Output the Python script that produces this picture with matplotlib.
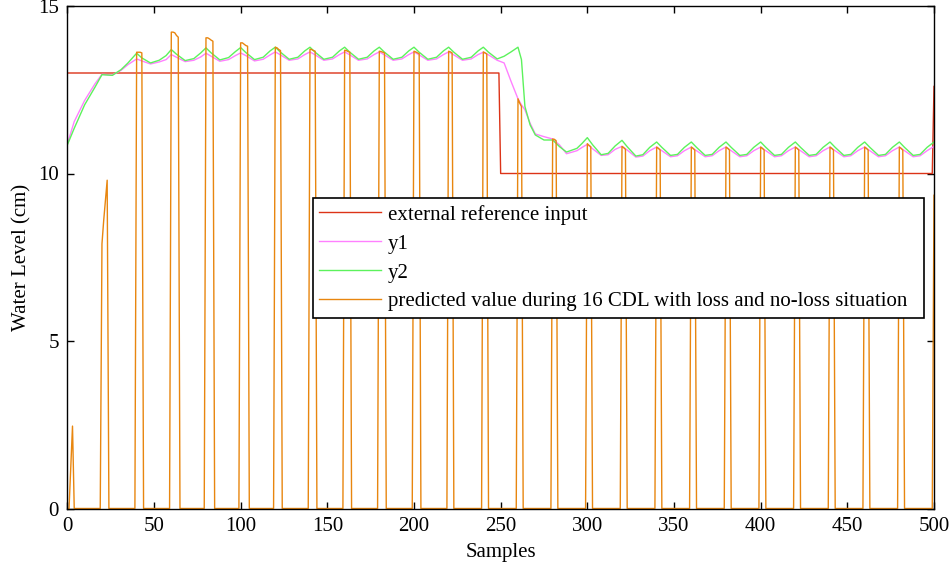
import matplotlib
import matplotlib.pyplot as plt
matplotlib.use('Agg')

# external reference input: step from 13 cm down to 10 cm
ref_samples = [0, 249, 250, 499, 500]
ref_values = [13.0, 13.0, 10.0, 10.0, 12.6]

level_samples = [
    0, 4, 10, 16, 20, 26, 31, 35,
    40, 43, 48, 53, 57,
    60, 63, 68, 73, 77,
    80, 83, 88, 93, 97,
    100, 103, 108, 113, 117,
    120, 123, 128, 133, 137,
    140, 143, 148, 153, 157,
    160, 163, 168, 173, 177,
    180, 183, 188, 193, 197,
    200, 203, 208, 213, 217,
    220, 223, 228, 233, 237,
    240, 243, 248, 252, 256,
    260, 262, 264, 267, 270, 275, 280, 284, 288, 294, 297,
    300, 303, 308, 312, 316,
    320, 323, 328, 332, 336,
    340, 343, 348, 352, 356,
    360, 363, 368, 372, 376,
    380, 383, 388, 392, 396,
    400, 403, 408, 412, 416,
    420, 423, 428, 432, 436,
    440, 443, 448, 452, 456,
    460, 463, 468, 472, 476,
    480, 483, 488, 492, 496,
    500,
]

y1_values = [
    10.88, 11.55, 12.18, 12.68, 12.96, 12.94, 13.08, 13.25,
    13.42, 13.36, 13.27, 13.33, 13.40,
    13.55, 13.47, 13.34, 13.38, 13.48,
    13.59, 13.50, 13.35, 13.40, 13.52,
    13.60, 13.52, 13.36, 13.41, 13.54,
    13.63, 13.54, 13.38, 13.42, 13.55,
    13.63, 13.54, 13.38, 13.42, 13.55,
    13.63, 13.54, 13.38, 13.42, 13.55,
    13.63, 13.54, 13.38, 13.42, 13.55,
    13.63, 13.54, 13.38, 13.42, 13.55,
    13.63, 13.54, 13.38, 13.42, 13.55,
    13.62, 13.54, 13.38, 13.30, 12.75,
    12.23, 12.05, 11.90, 11.50, 11.18, 11.10, 11.03, 10.85, 10.59, 10.68, 10.78,
    10.87, 10.74, 10.54, 10.56, 10.72,
    10.81, 10.70, 10.49, 10.52, 10.68,
    10.79, 10.68, 10.50, 10.53, 10.68,
    10.79, 10.68, 10.50, 10.53, 10.68,
    10.79, 10.68, 10.50, 10.53, 10.68,
    10.79, 10.68, 10.50, 10.53, 10.68,
    10.79, 10.68, 10.50, 10.53, 10.68,
    10.79, 10.68, 10.50, 10.53, 10.68,
    10.79, 10.68, 10.50, 10.53, 10.68,
    10.79, 10.68, 10.50, 10.53, 10.68,
    10.81,
]

y2_values = [
    10.85, 11.35, 12.05, 12.58, 12.95, 12.93, 13.10, 13.30,
    13.59, 13.45, 13.30, 13.38, 13.52,
    13.70, 13.56, 13.37, 13.43, 13.60,
    13.75, 13.60, 13.39, 13.46, 13.64,
    13.76, 13.61, 13.40, 13.47, 13.66,
    13.77, 13.62, 13.41, 13.47, 13.66,
    13.77, 13.62, 13.41, 13.47, 13.66,
    13.77, 13.62, 13.41, 13.47, 13.66,
    13.77, 13.62, 13.41, 13.47, 13.66,
    13.77, 13.62, 13.41, 13.47, 13.66,
    13.77, 13.62, 13.41, 13.47, 13.66,
    13.77, 13.62, 13.42, 13.50, 13.63,
    13.77, 13.40, 12.00, 11.45, 11.15, 11.00, 11.00, 10.80, 10.64, 10.75, 10.90,
    11.07, 10.86, 10.56, 10.60, 10.82,
    10.99, 10.80, 10.52, 10.56, 10.78,
    10.94, 10.78, 10.54, 10.57, 10.78,
    10.94, 10.78, 10.54, 10.57, 10.78,
    10.94, 10.78, 10.54, 10.57, 10.78,
    10.94, 10.78, 10.54, 10.57, 10.78,
    10.94, 10.78, 10.54, 10.57, 10.78,
    10.94, 10.78, 10.54, 10.57, 10.78,
    10.94, 10.78, 10.54, 10.57, 10.78,
    10.94, 10.78, 10.54, 10.57, 10.78,
    10.94,
]

# predicted value: zero except during the received packets
pulse_starts = [2, 20, 40, 60, 80, 100, 120, 140, 160, 180, 200, 220, 240,
                260, 280, 300, 320, 340, 360, 380, 400, 420, 440, 460, 480, 500]
pulse_tops = [
    [1.2, 2.46],
    [7.9, 8.6, 9.2, 9.8],
    [13.62, 13.62, 13.62, 13.60],
    [14.22, 14.22, 14.20, 14.12, 14.07],
    [14.05, 14.05, 14.02, 13.98, 13.95],
    [13.90, 13.90, 13.86, 13.82, 13.80],
    [13.77, 13.75, 13.70, 13.67],
    [13.71, 13.70, 13.67, 13.65],
    [13.68, 13.67, 13.64, 13.62],
    [13.65, 13.64, 13.62, 13.60],
    [13.65, 13.63, 13.60, 13.58],
    [13.65, 13.63, 13.60],
    [13.63, 13.60, 13.57],
    [12.23, 12.10, 12.00],
    [11.03, 11.02, 10.98],
    [10.89, 10.84, 10.80],
    [10.81, 10.77, 10.72],
    [10.79, 10.75, 10.70],
    [10.79, 10.75, 10.70],
    [10.79, 10.75, 10.70],
    [10.79, 10.75, 10.70],
    [10.79, 10.75, 10.70],
    [10.79, 10.75, 10.70],
    [10.79, 10.75, 10.70],
    [10.79, 10.75, 10.70],
    [9.35],
]

pred_s, pred_v = [0], [0.0]
for start, tops in zip(pulse_starts, pulse_tops):
    pred_s.append(start - 1)
    pred_v.append(0.0)
    for i, v in enumerate(tops):
        pred_s.append(start + i)
        pred_v.append(v)
    end = start + len(tops)
    if end <= 500:
        pred_s.append(end)
        pred_v.append(0.0)

plt.rcParams['font.family'] = 'Liberation Serif'
plt.rcParams['font.size'] = 15

fig = plt.figure(figsize=(9.52, 5.71), dpi=100)
ax = fig.add_axes([67.3 / 952, 62.5 / 571, 866.7 / 952, 502.5 / 571])

ax.plot(ref_samples, ref_values, color='#dc3318', lw=1.0, label='external reference input')
ax.plot(level_samples, y1_values, color='#ff80ff', lw=1.0, label='y1')
ax.plot(level_samples, y2_values, color='#5cf25c', lw=1.0, label='y2')
ax.plot(pred_s, pred_v, color='#e8860f', lw=1.0,
        label='predicted value during 16 CDL with loss and no-loss situation')

ax.set_xlim(0, 500)
ax.set_ylim(0, 15)
ax.set_xticks(range(0, 501, 50))
ax.set_yticks([0, 5, 10, 15])
ax.tick_params(direction='in', top=True, right=True, length=5, width=1, pad=6)
for sp in ax.spines.values():
    sp.set_linewidth(1.0)

ax.set_xlabel('Samples', labelpad=5)
ax.set_ylabel('Water Level (cm)', labelpad=5)

leg = ax.legend(loc='upper left', bbox_to_anchor=(0.283, 0.38, 0.7055, 0.237),
                mode='expand', fancybox=False, framealpha=1, edgecolor='black',
                handlelength=3.0, handletextpad=0.3, labelspacing=0.45,
                borderpad=0.3, borderaxespad=0)
leg.get_frame().set_linewidth(1.2)

plt.savefig('out.png', dpi=100)
